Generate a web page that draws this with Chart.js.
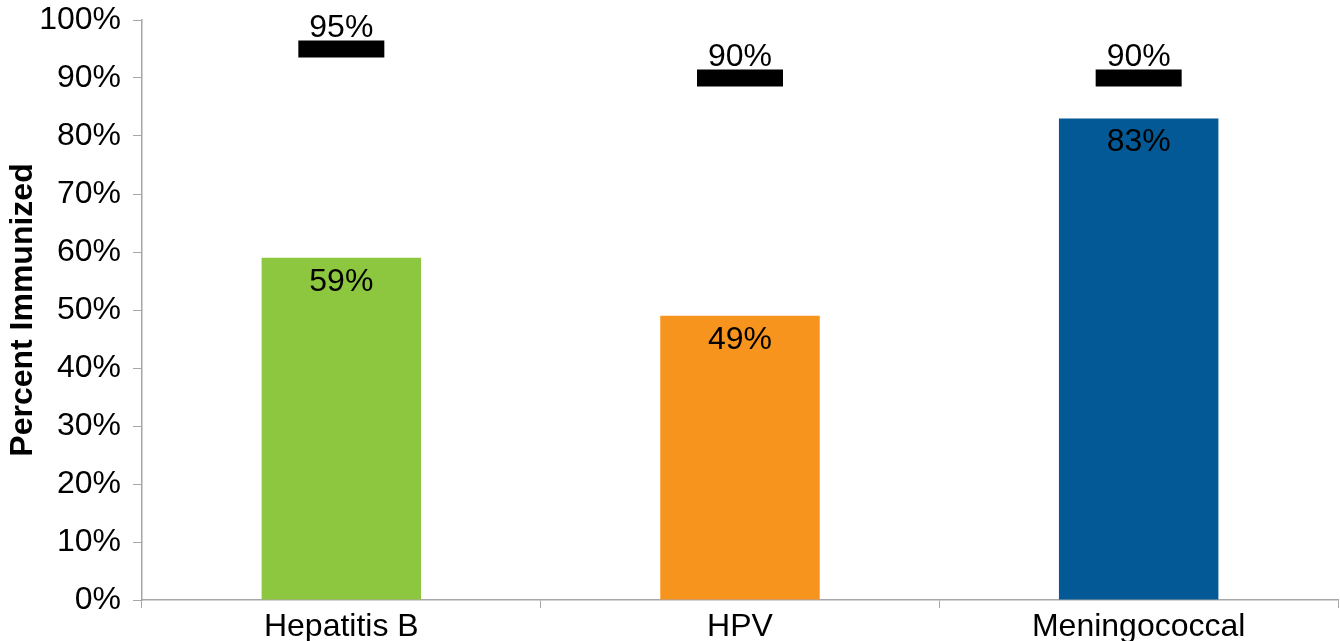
<!DOCTYPE html>
<html>
<head>
<meta charset="utf-8">
<script src="https://cdn.jsdelivr.net/npm/chart.js@4.4.0/dist/chart.umd.min.js"></script>
<style>
  html, body { margin: 0; padding: 0; background: #fff; }
  #wrap { width: 1340px; height: 641px; }
</style>
</head>
<body>
<div id="wrap"><canvas id="myChart" width="1340" height="641"></canvas></div>
<script>
// data ==>
var vaccines = ["Hepatitis B", "HPV", "Meningococcal"]
var immunized = [59, 49, 83]
var targets = [95, 90, 90]
var barColors = ["#8dc63f", "#f7941d", "#035995"]
var yTicks = [0, 10, 20, 30, 40, 50, 60, 70, 80, 90, 100]

var font = "'Liberation Sans', Arial, sans-serif"
var axisGrey = "#a6a6a6"

// labels on bars and targets ==>
var valueLabels = {
    id: "valueLabels",
    afterDatasetsDraw(chart) {
        var ctx = chart.ctx
        ctx.save()
        ctx.font = "32px " + font
        ctx.fillStyle = "#000"
        ctx.textAlign = "center"
        chart.getDatasetMeta(0).data.forEach((bar, i) => {
            ctx.textBaseline = "top"
            ctx.fillText(immunized[i] + "%", bar.x, bar.y + 8)
        })
        chart.getDatasetMeta(1).data.forEach((pt, i) => {
            ctx.textBaseline = "bottom"
            ctx.fillText(targets[i] + "%", pt.x, pt.y - 5)
        })
        ctx.restore()
    }
}

const ctx = document.getElementById("myChart")
new Chart(ctx, {
    type: "bar",
    data: {
        labels: vaccines,
        datasets: [{
            label: "Percent Immunized",
            data: immunized,
            backgroundColor: barColors,
            barPercentage: 0.4,
            categoryPercentage: 1.0,
            order: 2
        }, {
            type: "line",
            label: "Target",
            data: targets,
            showLine: false,
            pointStyle: "line",
            pointRadius: 43,
            pointHoverRadius: 43,
            pointBorderWidth: 17,
            pointHoverBorderWidth: 17,
            borderColor: "#000",
            backgroundColor: "#000",
            clip: false,
            order: 1
        }]
    },
    plugins: [valueLabels],
    options: {
        responsive: false,
        animation: false,
        layout: { autoPadding: false, padding: { top: 20, right: 2, left: 0, bottom: 0 } },
        plugins: {
            legend: { display: false },
            tooltip: { enabled: false }
        },
        scales: {
            x: {
                offset: true,
                grid: {
                    offset: true,
                    drawOnChartArea: false,
                    tickLength: 8,
                    color: axisGrey
                },
                border: { color: axisGrey, width: 1.5 },
                ticks: {
                    color: "#000",
                    font: { family: font, size: 32 },
                    padding: 0
                },
                afterFit: (axis) => {
                    axis.height = 41
                    axis.paddingLeft = 0
                    axis.paddingRight = 0
                }
            },
            y: {
                min: 0,
                max: 100,
                afterBuildTicks: (axis) => { axis.ticks = yTicks.map(v => ({ value: v })) },
                grid: {
                    drawOnChartArea: false,
                    tickLength: 9,
                    color: axisGrey
                },
                border: { color: axisGrey, width: 1.5 },
                ticks: {
                    color: "#000",
                    font: { family: font, size: 32 },
                    padding: 12,
                    callback: (v) => v + "%"
                },
                title: {
                    display: true,
                    text: "Percent Immunized",
                    color: "#000",
                    font: { family: font, size: 32, weight: "bold" },
                    padding: { top: 4, bottom: 0 }
                },
                afterFit: (axis) => {
                    axis.width = 142
                    axis.paddingTop = 0
                    axis.paddingBottom = 0
                }
            }
        }
    }
});
</script>
</body>
</html>
